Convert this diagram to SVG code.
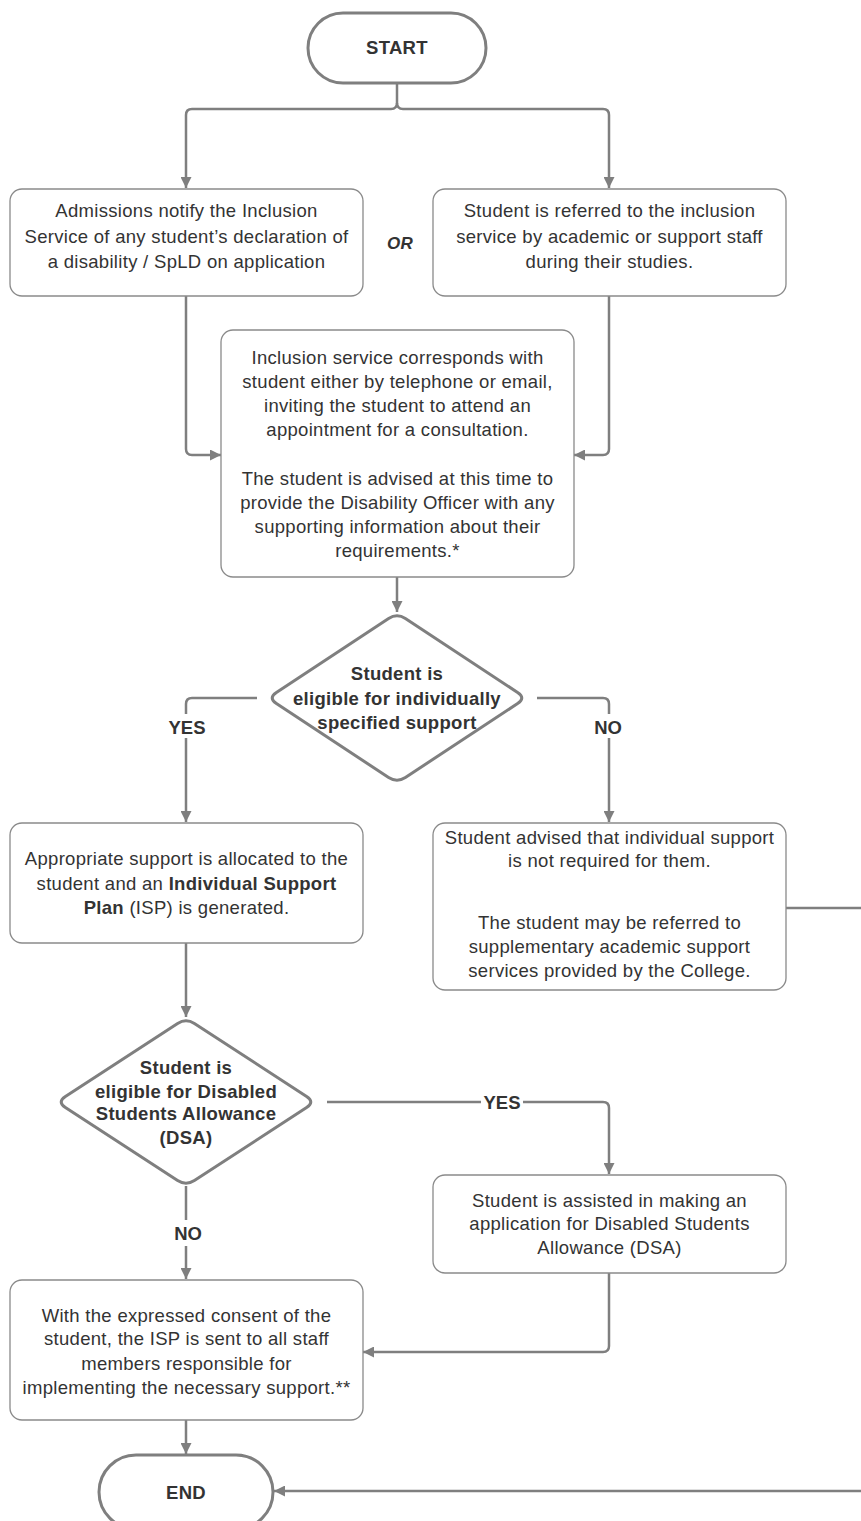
<svg xmlns="http://www.w3.org/2000/svg" width="861" height="1521" viewBox="0 0 861 1521">
<defs>
<marker id="ah" viewBox="0 0 10 10" refX="10" refY="5" markerWidth="11" markerHeight="11" markerUnits="userSpaceOnUse" orient="auto">
<path d="M0,0 L10,5 L0,10 z" fill="#7f7f7f"/>
</marker>
<style>
.box{fill:#fff;stroke:#8a8a8a;stroke-width:1.3}
.term{fill:#fff;stroke:#7f7f7f;stroke-width:3}
.dec{fill:#fff;stroke:#7f7f7f;stroke-width:3;stroke-linejoin:round}
.con{fill:none;stroke:#7f7f7f;stroke-width:2.5}
.arr{marker-end:url(#ah)}
.t{font-family:"Liberation Sans",Arial,sans-serif;font-size:18.5px;fill:#333;text-anchor:middle;letter-spacing:0.3px}
.b{font-weight:bold}
.lbl{font-family:"Liberation Sans",Arial,sans-serif;font-size:18.5px;font-weight:bold;fill:#333;text-anchor:middle}
</style>
</defs>
<rect width="861" height="1521" fill="#fff"/>

<g id="connectors">
<path class="con" d="M397,84 V103 Q397,109 391,109 H192 Q186,109 186,115 V188" marker-end="url(#ah)"/>
<path class="con" d="M397,103 Q397,109 403,109 H603 Q609,109 609,115 V188" marker-end="url(#ah)"/>
<path class="con" d="M186,296 V449 Q186,455 192,455 H221" marker-end="url(#ah)"/>
<path class="con" d="M609,296 V449 Q609,455 603,455 H574" marker-end="url(#ah)"/>
<path class="con" d="M397,577 V612" marker-end="url(#ah)"/>
<path class="con" d="M257,698 H192 Q186,698 186,704 V822" marker-end="url(#ah)"/>
<path class="con" d="M537,698 H603 Q609,698 609,704 V822" marker-end="url(#ah)"/>
<path class="con" d="M186,943 V1017" marker-end="url(#ah)"/>
<path class="con" d="M327,1102 H603 Q609,1102 609,1108 V1174" marker-end="url(#ah)"/>
<path class="con" d="M186,1186 V1279" marker-end="url(#ah)"/>
<path class="con" d="M609,1273 V1346 Q609,1352 603,1352 H363" marker-end="url(#ah)"/>
<path class="con" d="M186,1420 V1454" marker-end="url(#ah)"/>
<path class="con" d="M786,908 H880 V1491 H274" marker-end="url(#ah)"/>
<rect x="166" y="714" width="42" height="24" fill="#fff"/>
<text class="lbl" x="187" y="734">YES</text>
<rect x="592" y="714" width="34" height="24" fill="#fff"/>
<text class="lbl" x="608" y="734">NO</text>
<rect x="481" y="1090" width="42" height="24" fill="#fff"/>
<text class="lbl" x="502" y="1109">YES</text>
<rect x="171" y="1220" width="34" height="26" fill="#fff"/>
<text class="lbl" x="188" y="1240">NO</text>
</g>

<g id="start">
<rect class="term" x="308" y="13" width="178" height="70" rx="35"/>
<text class="t b" x="397" y="54">START</text>
</g>

<g id="admissions">
<rect class="box" x="10" y="189" width="353" height="107" rx="12"/>
<text class="t" x="186.5" y="217">Admissions notify the Inclusion</text>
<text class="t" x="186.5" y="243">Service of any student’s declaration of</text>
<text class="t" x="186.5" y="268">a disability / SpLD on application</text>
</g>

<g id="or">
<text class="t b" x="400" y="249" style="font-style:italic;font-size:17px">OR</text>
</g>

<g id="referred">
<rect class="box" x="433" y="189" width="353" height="107" rx="12"/>
<text class="t" x="609.5" y="217">Student is referred to the inclusion</text>
<text class="t" x="609.5" y="243">service by academic or support staff</text>
<text class="t" x="609.5" y="268">during their studies.</text>
</g>

<g id="consultation">
<rect class="box" x="221" y="330" width="353" height="247" rx="12"/>
<text class="t" x="397.5" y="364">Inclusion service corresponds with</text>
<text class="t" x="397.5" y="388">student either by telephone or email,</text>
<text class="t" x="397.5" y="412">inviting the student to attend an</text>
<text class="t" x="397.5" y="436">appointment for a consultation.</text>
<text class="t" x="397.5" y="485">The student is advised at this time to</text>
<text class="t" x="397.5" y="509">provide the Disability Officer with any</text>
<text class="t" x="397.5" y="533">supporting information about their</text>
<text class="t" x="397.5" y="557">requirements.*</text>
</g>

<g id="decision1">
<path class="dec" d="M405.4,618.5 L517.6,692.5 Q526,698 517.6,703.5 L405.4,777.5 Q397,783 388.6,777.5 L276.4,703.5 Q268,698 276.4,692.5 L388.6,618.5 Q397,613 405.4,618.5 Z"/>
<text class="t b" x="397" y="680">Student is</text>
<text class="t b" x="397" y="705">eligible for individually</text>
<text class="t b" x="397" y="729">specified support</text>
</g>

<g id="allocated">
<rect class="box" x="10" y="823" width="353" height="120" rx="12"/>
<text class="t" x="186.5" y="865">Appropriate support is allocated to the</text>
<text class="t" x="186.5" y="890">student and an <tspan font-weight="bold">Individual Support</tspan></text>
<text class="t" x="186.5" y="914"><tspan font-weight="bold">Plan</tspan> (ISP) is generated.</text>
</g>

<g id="notrequired">
<rect class="box" x="433" y="823" width="353" height="167" rx="12"/>
<text class="t" x="609.5" y="844">Student advised that individual support</text>
<text class="t" x="609.5" y="867">is not required for them.</text>
<text class="t" x="609.5" y="929">The student may be referred to</text>
<text class="t" x="609.5" y="953">supplementary academic support</text>
<text class="t" x="609.5" y="977">services provided by the College.</text>
</g>

<g id="decision2">
<path class="dec" d="M194.4,1023.5 L306.6,1096.5 Q315,1102 306.6,1107.5 L194.4,1180.5 Q186,1186 177.6,1180.5 L65.4,1107.5 Q57,1102 65.4,1096.5 L177.6,1023.5 Q186,1018 194.4,1023.5 Z"/>
<text class="t b" x="186" y="1074">Student is</text>
<text class="t b" x="186" y="1098">eligible for Disabled</text>
<text class="t b" x="186" y="1120">Students Allowance</text>
<text class="t b" x="186" y="1144">(DSA)</text>
</g>

<g id="dsa">
<rect class="box" x="433" y="1175" width="353" height="98" rx="12"/>
<text class="t" x="609.5" y="1207">Student is assisted in making an</text>
<text class="t" x="609.5" y="1230">application for Disabled Students</text>
<text class="t" x="609.5" y="1254">Allowance (DSA)</text>
</g>

<g id="isp">
<rect class="box" x="10" y="1280" width="353" height="140" rx="12"/>
<text class="t" x="186.5" y="1322">With the expressed consent of the</text>
<text class="t" x="186.5" y="1345">student, the ISP is sent to all staff</text>
<text class="t" x="186.5" y="1370">members responsible for</text>
<text class="t" x="186.5" y="1394">implementing the necessary support.**</text>
</g>

<g id="end">
<rect class="term" x="99" y="1455" width="174" height="74" rx="37"/>
<text class="t b" x="186" y="1499">END</text>
</g>
</svg>
